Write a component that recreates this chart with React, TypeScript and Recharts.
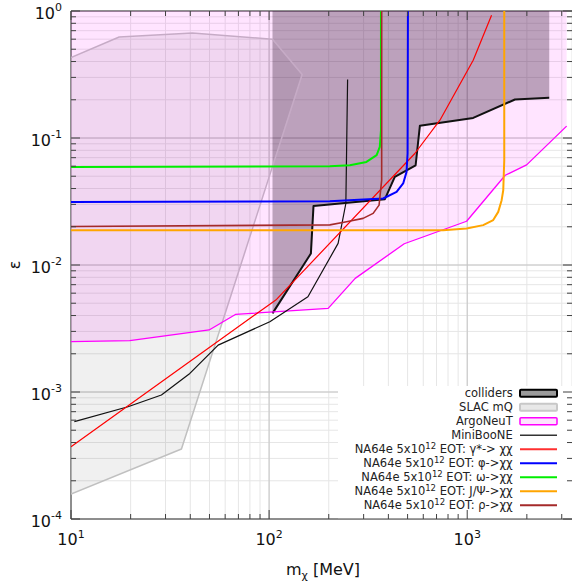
import React from 'react';
import { ComposedChart, Scatter, XAxis, YAxis, CartesianGrid, ReferenceLine, Customized } from 'recharts';

type Pt = [number, number];

const W = 572;
const H = 586;
const LEFT = 71;
const TOP = 11;
const BOTTOM = 67;
const PLOT_BOTTOM = H - BOTTOM;
const AXIS = '#404040';
const FONT = 'DejaVu Sans, sans-serif';

const X_DOMAIN: [number, number] = [10, 3380];
const Y_DOMAIN: [number, number] = [1e-4, 1];

const xDecades = [10, 100, 1000];
const yDecades = [1e-4, 1e-3, 1e-2, 1e-1, 1];
const mantissas = [1, 2, 3, 4, 5, 6, 7, 8, 9];

const xTicks = xDecades.flatMap((d) => mantissas.map((m) => m * d)).filter((v) => v <= X_DOMAIN[1]);
const yTicks = yDecades.flatMap((d) => mantissas.map((m) => m * d)).filter((v) => v <= 1.0001);

// exclusion regions (mass in MeV, epsilon)
const collidersBound: Pt[] = [
  [104, 0.00416], [162.5, 0.0123], [167.5, 0.0291], [384, 0.033], [431, 0.0494],
  [549, 0.061], [577, 0.125], [1072, 0.144], [1741, 0.201], [2594, 0.207],
];
const slacRegion: Pt[] = [
  [10, 1.57e-4], [36.1, 3.56e-4], [146.8, 0.316], [104, 0.599], [41, 0.671], [17.5, 0.624], [10, 0.43],
];
const argoNeuTBound: Pt[] = [
  [10, 0.00249], [19.8, 0.00254], [49.8, 0.00308], [67.6, 0.00408], [198.6, 0.00456], [272, 0.00785],
  [481, 0.0147], [993, 0.0221], [1556, 0.0509], [1995, 0.0614], [3176, 0.124],
];
const miniBooNE: Pt[] = [
  [10.4, 5.84e-4], [19.4, 7.66e-4], [28.6, 9.47e-4], [39.8, 1.4e-3], [55.3, 2.34e-3],
  [100.8, 3.57e-3], [157, 5.62e-3], [223, 0.0148], [244, 0.0305], [249, 0.289],
];

// NA64e projections, 5x10^12 EOT
const gammaStar: Pt[] = [[10, 3.71e-4], [109, 0.00536], [544, 0.0755], [728, 0.138], [1072, 0.41], [1327, 0.925]];
const phiDecay: Pt[] = [
  [10, 0.0313], [202.6, 0.0318], [376.5, 0.0334], [440, 0.0377], [475, 0.0439], [494, 0.0541], [500, 0.0755], [502, 1],
];
const omegaDecay: Pt[] = [
  [10, 0.0592], [202.6, 0.06], [255.6, 0.0609], [310, 0.0648], [349, 0.0732], [362, 0.0851], [367, 0.115], [367, 1],
];
const jpsiDecay: Pt[] = [
  [10, 0.0188], [757, 0.0188], [993, 0.0194], [1204, 0.0206], [1353, 0.0226], [1434, 0.0262],
  [1492, 0.0324], [1520, 0.0388], [1538, 0.0669], [1538, 1],
];
const rhoDecay: Pt[] = [
  [10, 0.0201], [202.6, 0.0207], [246, 0.0219], [298, 0.0233], [335, 0.0255], [359, 0.0296], [370, 0.0466], [370, 1],
];

const legendLabels = [
  'colliders',
  'SLAC mQ',
  'ArgoNeuT',
  'MiniBooNE',
  'NA64e 5x10^12 EOT: γ*-> χχ',
  'NA64e 5x10^12 EOT: φ->χχ',
  'NA64e 5x10^12 EOT: ω->χχ',
  'NA64e 5x10^12 EOT: J/Ψ->χχ',
  'NA64e 5x10^12 EOT: ρ->χχ',
];

const legendSwatches = [
  { kind: 'box', fill: '#9a9a9a', stroke: '#000', width: 2 },
  { kind: 'box', fill: '#e8e8e8', stroke: '#c8c8c8', width: 2 },
  { kind: 'box', fill: '#fde3fd', stroke: '#ff00ff', width: 1.5 },
  { kind: 'line', stroke: '#333', width: 1.5 },
  { kind: 'line', stroke: '#ff3030', width: 2 },
  { kind: 'line', stroke: '#0000ff', width: 2 },
  { kind: 'line', stroke: '#00ee00', width: 2 },
  { kind: 'line', stroke: '#ffa500', width: 2 },
  { kind: 'line', stroke: '#a52a2a', width: 2 },
];

// closes a lower bound up to the top of the plot
const toTop = (pts: Pt[]): Pt[] => [...pts, [pts[pts.length - 1][0], 1], [pts[0][0], 1]];
const toXY = (pts: Pt[]) => pts.map(([x, y]) => ({ x, y }));

const isDecade = (v: number) => Math.abs(Math.log10(v) - Math.round(Math.log10(v))) < 1e-6;

const NoDot = () => <g />;

const region = (pts: Pt[], fill: string, opacity: number) => (
  <Scatter
    data={toXY(pts)}
    shape={NoDot}
    line={{ stroke: 'none', fill, fillOpacity: opacity }}
    lineJointType="linearClosed"
    isAnimationActive={false}
  />
);

const curve = (pts: Pt[], stroke: string, width: number, closed = false) => (
  <Scatter
    data={toXY(pts)}
    shape={NoDot}
    line={{ stroke, strokeWidth: width, fill: 'none', strokeLinejoin: 'round' }}
    lineJointType={closed ? 'linearClosed' : 'linear'}
    isAnimationActive={false}
  />
);

function XTick(props: any) {
  const { x, y, payload } = props;
  const v = payload.value;
  const major = isDecade(v);
  const len = major ? 9 : 5;
  return (
    <g>
      <line x1={x} x2={x} y1={y} y2={y - len} stroke={AXIS} />
      <line x1={x} x2={x} y1={TOP} y2={TOP + len} stroke={AXIS} />
      {major && (
        <text x={x} y={y + 26} textAnchor="middle" fontSize={16} fontFamily={FONT} fill="#111">
          10<tspan dy={-7.5} fontSize={11}>{Math.round(Math.log10(v))}</tspan>
        </text>
      )}
    </g>
  );
}

function YTick(props: any) {
  const { x, y, payload } = props;
  const v = payload.value;
  const major = isDecade(v);
  const len = major ? 9 : 5;
  return (
    <g>
      <line x1={x} x2={x + len} y1={y} y2={y} stroke={AXIS} />
      <line x1={W} x2={W - len} y1={y} y2={y} stroke={AXIS} />
      {major && (
        <text x={x - 9} y={y + 7.5} textAnchor="end" fontSize={16} fontFamily={FONT} fill="#111">
          10<tspan dy={-7.5} fontSize={11}>{Math.round(Math.log10(v))}</tspan>
        </text>
      )}
    </g>
  );
}

function LegendText({ label, x, y }: { label: string; x: number; y: number }) {
  const parts = label.split(/\^(\d+)/);
  return (
    <text x={x} y={y} textAnchor="end" fontSize={11.5} fill="#222" style={{ whiteSpace: 'pre' }}>
      {parts[0]}
      {parts.length > 1 && (
        <>
          <tspan dy={-4.5} fontSize={8.5}>{parts[1]}</tspan>
          <tspan dy={4.5}>{parts[2]}</tspan>
        </>
      )}
    </text>
  );
}

function Decorations() {
  const rowTop = 393.3;
  const rowGap = 14;
  return (
    <g fontFamily={FONT}>
      <rect x={338} y={386} width={W - 338} height={PLOT_BOTTOM - 386} fill="#fff" />
      {legendLabels.map((label, i) => {
        const cy = rowTop + i * rowGap;
        const s = legendSwatches[i];
        return (
          <g key={label}>
            <LegendText label={label} x={512.7} y={cy + 4} />
            {s.kind === 'box' ? (
              <rect x={520} y={cy - 3.5} width={37} height={7} rx={1} fill={s.fill} stroke={s.stroke} strokeWidth={s.width} />
            ) : (
              <line x1={520} x2={557} y1={cy} y2={cy} stroke={s.stroke} strokeWidth={s.width} />
            )}
          </g>
        );
      })}
      <text x={15} y={269.5} textAnchor="middle" fontSize={16} fill="#111" transform="rotate(-90 15 265)">
        ε
      </text>
      <text x={323} y={575} textAnchor="middle" fontSize={16} fill="#111" style={{ whiteSpace: 'pre' }}>
        m<tspan dy={4} fontSize={11}>χ</tspan>
        <tspan dy={-4}> [MeV]</tspan>
      </text>
    </g>
  );
}

export default function App() {
  return (
    <div style={{ position: 'absolute', left: 0, top: 0, width: W, height: H, background: '#fff' }}>
      <ComposedChart width={W} height={H} margin={{ top: TOP, right: 0, bottom: 0, left: 0 }}>
        <CartesianGrid stroke="#e6e6e6" />
        <CartesianGrid stroke="#c4c4c4" horizontalValues={yDecades} verticalValues={xDecades} />

        {region(slacRegion, '#000', 0.06)}
        {region(toTop(collidersBound), '#000', 0.29)}
        {curve(slacRegion, '#c0c0c0', 1.5, true)}
        {region(toTop(argoNeuTBound), '#ff00ff', 0.105)}
        {curve(collidersBound, '#111', 2)}
        {curve(argoNeuTBound, '#ff00ff', 1.3)}
        {curve(miniBooNE, '#111', 1.2)}
        {curve(gammaStar, '#ff0000', 1.2)}
        {curve(phiDecay, '#0000ff', 2)}
        {curve(omegaDecay, '#00ee00', 2)}
        {curve(jpsiDecay, '#ffa500', 2)}
        {curve(rhoDecay, '#a52a2a', 1.6)}

        <Customized component={Decorations} />

        <ReferenceLine y={1} stroke={AXIS} />
        <XAxis
          type="number"
          dataKey="x"
          scale="log"
          domain={X_DOMAIN}
          allowDataOverflow
          ticks={xTicks}
          interval={0}
          height={BOTTOM}
          tickSize={0}
          tickMargin={0}
          tickLine={false}
          axisLine={{ stroke: AXIS }}
          tick={(p: any) => <XTick {...p} />}
        />
        <YAxis
          type="number"
          dataKey="y"
          scale="log"
          domain={Y_DOMAIN}
          allowDataOverflow
          ticks={yTicks}
          interval={0}
          width={LEFT}
          tickSize={0}
          tickMargin={0}
          tickLine={false}
          axisLine={{ stroke: AXIS }}
          tick={(p: any) => <YTick {...p} />}
        />
      </ComposedChart>
    </div>
  );
}
